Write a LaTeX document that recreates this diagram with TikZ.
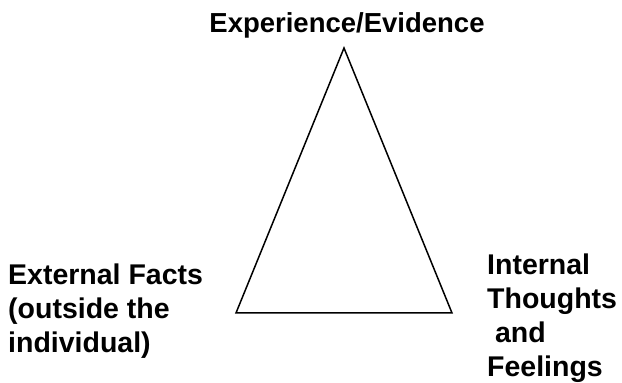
\documentclass[tikz,border=0pt]{standalone}
\usepackage{fontspec}
\setmainfont{Liberation Sans}
\usetikzlibrary{positioning}
\tikzset{
  label/.style={align=left, inner sep=0pt, font=\fontsize{27.5}{34}\selectfont\bfseries},
  side/.style={label, font=\fontsize{28.5}{34}\selectfont\bfseries},
  edge/.style={line width=1.5pt, line join=miter}
}

\begin{document}
\begin{tikzpicture}[x=1pt,y=1pt]
  \useasboundingbox (0,0) rectangle (622,383);
  \coordinate (apex) at (344,335);
  \coordinate (bl) at (236,70);
  \coordinate (br) at (452,70);
  \draw[edge] (apex) -- (bl) -- (br) -- cycle;
  \node[label, anchor=base] (top) at (347,350) {Experience/Evidence};
  \node[side, anchor=north west] (ext) at (8,119) {External Facts\\(outside the\\individual)};
  \node[side, anchor=north west] (int) at (487,129) {Internal\\Thoughts\\\ and\\Feelings};
\end{tikzpicture}
\end{document}
